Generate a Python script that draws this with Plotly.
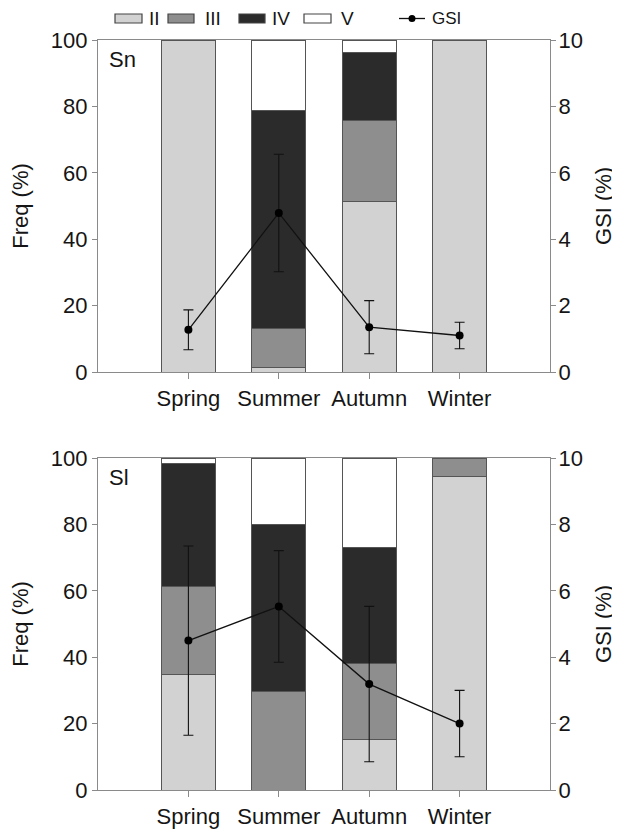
import plotly.graph_objects as go

seasons = ["Spring", "Summer", "Autumn", "Winter"]
stage_names = ["II", "III", "IV", "V"]
stage_colors = ["#d2d2d2", "#8e8e8e", "#2b2b2b", "#ffffff"]

# Panel Sn: stage frequencies (%)
sn_II = [100, 1.3, 51.5, 100]
sn_III = [0, 11.9, 24.2, 0]
sn_IV = [0, 65.5, 20.4, 0]
sn_V = [0, 21.3, 3.9, 0]
sn_gsi = [1.27, 4.79, 1.35, 1.10]
sn_gsi_err = [0.6, 1.77, 0.8, 0.4]

# Panel Sl: stage frequencies (%)
sl_II = [34.7, 0, 15.2, 94.5]
sl_III = [26.7, 29.7, 23.0, 5.5]
sl_IV = [36.9, 50.3, 34.9, 0]
sl_V = [1.7, 20.0, 26.9, 0]
sl_gsi = [4.50, 5.53, 3.19, 2.00]
sl_gsi_err = [2.85, 1.68, 2.34, 1.0]

freq_ticks = [0, 20, 40, 60, 80, 100]
gsi_ticks = [0, 2, 4, 6, 8, 10]

FONT = "Liberation Sans, Arial, sans-serif"
TXT = "#151515"
AX = "#8a8a8a"

fig = go.Figure()

panels = [
    ("x", "y", "y3", [sn_II, sn_III, sn_IV, sn_V], sn_gsi, sn_gsi_err),
    ("x2", "y2", "y4", [sl_II, sl_III, sl_IV, sl_V], sl_gsi, sl_gsi_err),
]
for xa, ya, ya2, stages, gsi, err in panels:
    for name, col, vals in zip(stage_names, stage_colors, stages):
        fig.add_trace(go.Bar(
            x=seasons, y=vals, name=name, xaxis=xa, yaxis=ya,
            marker=dict(color=col, line=dict(color="#555555", width=1)),
            width=0.6, showlegend=False,
        ))
    fig.add_trace(go.Scatter(
        x=seasons, y=gsi, xaxis=xa, yaxis=ya2, mode="lines+markers",
        line=dict(color="#111111", width=1.3),
        marker=dict(color="#000000", size=8),
        error_y=dict(type="data", array=err, color="#111111", thickness=1.1, width=5),
        showlegend=False, name="GSI",
    ))

# page has an 8px body margin: figure sized to fit the window
OFF = 8
W, H = 620 - OFF, 834 - OFF
# target page-pixel geometry of the plot area
PL, PR, PT, PB = 98, 550, 40, 790
L, R, T, B = PL - OFF, W - (PR - OFF), PT - OFF, H - (PB - OFF)
pw, ph = W - L - R, H - T - B
top_dom = [(PB - 372) / ph, 1.0]
bot_dom = [0.0, (PB - 458) / ph]

def xaxis(anchor):
    return dict(
        anchor=anchor, domain=[0, 1], type="category", range=[-1, 4],
        showline=True, linecolor=AX, linewidth=1.2, mirror=True,
        ticks="outside", ticklen=6, tickcolor=AX, showgrid=False, zeroline=False,
        tickfont=dict(family=FONT, size=22, color=TXT), automargin=False,
    )

def yleft(dom, anchor):
    return dict(
        anchor=anchor, domain=dom, range=[0, 100], tickvals=freq_ticks,
        showline=True, linecolor=AX, linewidth=1.2, ticks="outside", ticklen=5,
        tickcolor=AX, showgrid=False, zeroline=False, automargin=False,
        tickfont=dict(family=FONT, size=22, color=TXT),
        title=dict(text="Freq (%)", font=dict(family=FONT, size=22, color=TXT), standoff=18),
    )

def yright(over, anchor):
    return dict(
        overlaying=over, anchor=anchor, side="right", range=[0, 10], tickvals=gsi_ticks,
        showline=True, linecolor=AX, linewidth=1.2, ticks="outside", ticklen=5,
        tickcolor=AX, showgrid=False, zeroline=False, automargin=False,
        ticklabelstandoff=-2,
        tickfont=dict(family=FONT, size=22, color=TXT),
        title=dict(text="GSI (%)", font=dict(family=FONT, size=22, color=TXT), standoff=13),
    )

shapes = []
annotations = []

def px_x(p):
    return (p - PL) / pw

def px_y(p):
    return (PB - p) / ph

# Legend (drawn as layout decorations)
patches = [(115, 142), (168, 194), (239, 265), (304, 331)]
text_x = [147, 203, 270, 339]
for (a, b), col, name, tx in zip(patches, stage_colors, stage_names, text_x):
    shapes.append(dict(type="rect", xref="paper", yref="paper",
                       x0=px_x(a), x1=px_x(b), y0=px_y(23), y1=px_y(14),
                       fillcolor=col, line=dict(color="#444444", width=1.2)))
    annotations.append(dict(text=name, xref="paper", yref="paper", x=px_x(tx), y=px_y(18.5),
                            xanchor="left", yanchor="middle", showarrow=False,
                            font=dict(family=FONT, size=19, color=TXT)))
shapes.append(dict(type="line", xref="paper", yref="paper", x0=px_x(399), x1=px_x(425),
                   y0=px_y(18.5), y1=px_y(18.5), line=dict(color="#111111", width=1.3)))
shapes.append(dict(type="circle", xref="paper", yref="paper", x0=px_x(408.5), x1=px_x(415.5),
                   y0=px_y(22), y1=px_y(15), fillcolor="#000000", line=dict(color="#000000", width=0)))
annotations.append(dict(text="GSI", xref="paper", yref="paper", x=px_x(430), y=px_y(18.5),
                        xanchor="left", yanchor="middle", showarrow=False,
                        font=dict(family=FONT, size=17, color=TXT)))

annotations.append(dict(text="Sn", xref="x domain", yref="y domain", x=0.02, y=0.985,
                        xanchor="left", yanchor="top", showarrow=False,
                        font=dict(family=FONT, size=22, color=TXT)))
annotations.append(dict(text="Sl", xref="x2 domain", yref="y2 domain", x=0.02, y=0.985,
                        xanchor="left", yanchor="top", showarrow=False,
                        font=dict(family=FONT, size=22, color=TXT)))

fig.update_layout(
    width=W, height=H, margin=dict(l=L, r=R, t=T, b=B, autoexpand=False),
    paper_bgcolor="white", plot_bgcolor="white",
    barmode="stack", bargap=0.4,
    font=dict(family=FONT, color=TXT),
    xaxis=xaxis("y"), xaxis2=xaxis("y2"),
    yaxis=yleft(top_dom, "x"), yaxis2=yleft(bot_dom, "x2"),
    yaxis3=yright("y", "x"), yaxis4=yright("y2", "x2"),
    shapes=shapes, annotations=annotations, showlegend=False,
)

fig.write_html("out.html")
